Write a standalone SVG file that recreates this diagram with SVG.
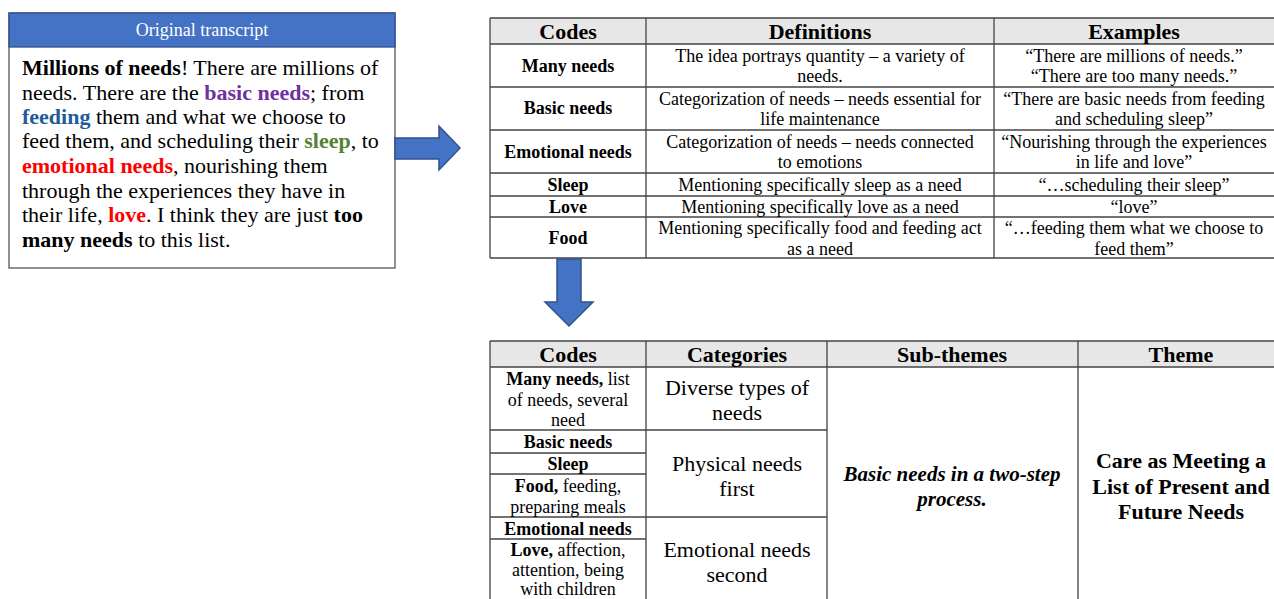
<svg xmlns="http://www.w3.org/2000/svg" width="1274" height="599" viewBox="0 0 1274 599">
<style>
text{font-family:"Liberation Serif","Times New Roman",serif;fill:#000}
.tr{font-size:22px}
.b{font-weight:bold}
.h{font-size:22px;font-weight:bold;text-anchor:middle}
.c{font-size:18px;text-anchor:middle}
.cb{font-size:18px;font-weight:bold;text-anchor:middle}
.l{font-size:22px;text-anchor:middle}
.grid{stroke:#444;stroke-width:1.3;fill:none}
.hdr{fill:#e7e7e7;stroke:none}
.arrow{fill:#4472C4;stroke:#2F528F;stroke-width:1.5}
</style>
<rect width="1274" height="599" fill="#fff"/>

<g id="transcript">
<rect x="9" y="13" width="386" height="255" fill="#fff" stroke="#555" stroke-width="1.3"/>
<rect x="9" y="13" width="386" height="34" fill="#4472C4" stroke="#2F528F" stroke-width="1.3"/>
<text x="202" y="36" style="font-size:18px;fill:#fff;text-anchor:middle">Original transcript</text>
<text class="tr" x="22" y="75"><tspan class="b">Millions of needs</tspan>! There are millions of</text>
<text class="tr" x="22" y="100">needs. There are the <tspan class="b" style="fill:#7030A0">basic needs</tspan>; from</text>
<text class="tr" x="22" y="124"><tspan class="b" style="fill:#1F5C99">feeding</tspan> them and what we choose to</text>
<text class="tr" x="22" y="148">feed them, and scheduling their <tspan class="b" style="fill:#548235">sleep</tspan>, to</text>
<text class="tr" x="22" y="173"><tspan class="b" style="fill:#FF0000">emotional needs</tspan>, nourishing them</text>
<text class="tr" x="22" y="198">through the experiences they have in</text>
<text class="tr" x="22" y="222">their life, <tspan class="b" style="fill:#FF0000">love</tspan>. I think they are just <tspan class="b">too</tspan></text>
<text class="tr" x="22" y="247"><tspan class="b">many needs</tspan> to this list.</text>
</g>

<g id="codes-table">
<rect class="hdr" x="490" y="18" width="784" height="26"/>
<path class="grid" d="M490 18H1274M490 44H1274M490 87H1274M490 130H1274M490 173H1274M490 196H1274M490 217H1274M490 258H1274M490 18V258M646 18V258M994 18V258"/>
<text class="h" x="568" y="39">Codes</text>
<text class="h" x="820" y="39">Definitions</text>
<text class="h" x="1134" y="39">Examples</text>

<text class="cb" x="568" y="72">Many needs</text>
<text class="c" x="820" y="62">The idea portrays quantity – a variety of</text>
<text class="c" x="820" y="82">needs.</text>
<text class="c" x="1134" y="62">“There are millions of needs.”</text>
<text class="c" x="1134" y="82">“There are too many needs.”</text>

<text class="cb" x="568" y="114">Basic needs</text>
<text class="c" x="820" y="105">Categorization of needs – needs essential for</text>
<text class="c" x="820" y="125">life maintenance</text>
<text class="c" x="1134" y="105">“There are basic needs from feeding</text>
<text class="c" x="1134" y="125">and scheduling sleep”</text>

<text class="cb" x="568" y="158">Emotional needs</text>
<text class="c" x="820" y="148">Categorization of needs – needs connected</text>
<text class="c" x="820" y="168">to emotions</text>
<text class="c" x="1134" y="148">“Nourishing through the experiences</text>
<text class="c" x="1134" y="168">in life and love”</text>

<text class="cb" x="568" y="191">Sleep</text>
<text class="c" x="820" y="191">Mentioning specifically sleep as a need</text>
<text class="c" x="1134" y="191">“…scheduling their sleep”</text>

<text class="cb" x="568" y="213">Love</text>
<text class="c" x="820" y="213">Mentioning specifically love as a need</text>
<text class="c" x="1134" y="213">“love”</text>

<text class="cb" x="568" y="244">Food</text>
<text class="c" x="820" y="234">Mentioning specifically food and feeding act</text>
<text class="c" x="820" y="255">as a need</text>
<text class="c" x="1134" y="234">“…feeding them what we choose to</text>
<text class="c" x="1134" y="255">feed them”</text>
</g>

<g id="themes-table">
<rect class="hdr" x="490" y="341" width="784" height="26"/>
<path class="grid" d="M490 341H1274M490 367H1274M490 430H827M490 453H646M490 474H646M490 517H827M490 539H646M490 341V599M646 341V599M827 341V599M1078 341V599"/>
<text class="h" x="568" y="362">Codes</text>
<text class="h" x="737" y="362">Categories</text>
<text class="h" x="952" y="362">Sub-themes</text>
<text class="h" x="1181" y="362">Theme</text>

<text class="c" x="568" y="385"><tspan class="b">Many needs,</tspan> list</text>
<text class="c" x="568" y="406">of needs, several</text>
<text class="c" x="568" y="426">need</text>
<text class="cb" x="568" y="448">Basic needs</text>
<text class="cb" x="568" y="470">Sleep</text>
<text class="c" x="568" y="492"><tspan class="b">Food,</tspan> feeding,</text>
<text class="c" x="568" y="513">preparing meals</text>
<text class="cb" x="568" y="535">Emotional needs</text>
<text class="c" x="568" y="556"><tspan class="b">Love,</tspan> affection,</text>
<text class="c" x="568" y="576">attention, being</text>
<text class="c" x="568" y="595">with children</text>

<text class="l" x="737" y="395">Diverse types of</text>
<text class="l" x="737" y="420">needs</text>
<text class="l" x="737" y="471">Physical needs</text>
<text class="l" x="737" y="496">first</text>
<text class="l" x="737" y="557">Emotional needs</text>
<text class="l" x="737" y="582">second</text>

<text x="952" y="481" style="font-size:21px;text-anchor:middle;font-weight:bold;font-style:italic">Basic needs in a two-step</text>
<text x="952" y="506" style="font-size:21px;text-anchor:middle;font-weight:bold;font-style:italic">process.</text>

<text class="l b" x="1181" y="468">Care as Meeting a</text>
<text class="l b" x="1181" y="494">List of Present and</text>
<text class="l b" x="1181" y="519">Future Needs</text>
</g>

<g id="connectors">
<path class="arrow" d="M395 138H439V126L460 148L439 170V159H395Z"/>
<path class="arrow" d="M557 259H581V302H593L569 326L545 302H557Z"/>
</g>
</svg>
